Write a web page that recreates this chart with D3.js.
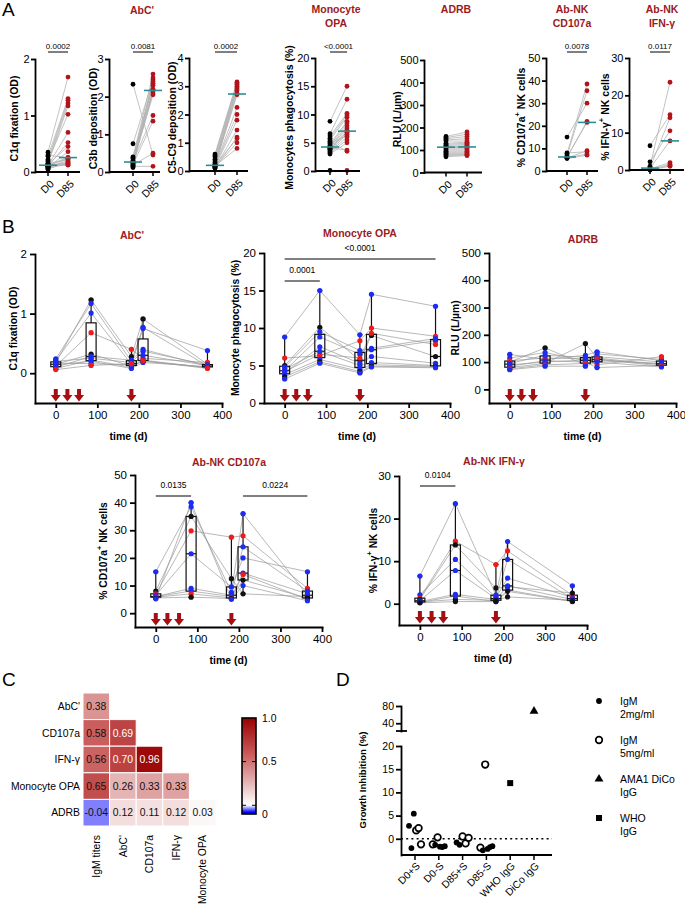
<!DOCTYPE html>
<html><head><meta charset="utf-8">
<script src="https://cdn.jsdelivr.net/npm/d3@7"></script>
<style>body{margin:0;background:#fff}svg{display:block}</style>
</head><body><svg id="c" width="685" height="906"></svg>
<script>
// ================= DATA =================
// Panel A: paired D0 / D85 values
const pairCats = ["D0", "D85"];
const c1qD0  = [0.35,0.28,0.22,0.18,0.15,0.20,0.12,0.10,0.14,0.08,0.30,0.12,0.10,0.06,0.15,0.08,0.05,0.10,0.12,0.07,0.12,0.11];
const c1qD85 = [1.68,1.30,1.27,1.22,1.17,1.02,0.70,0.52,0.45,0.36,0.25,0.26,0.25,0.24,0.22,0.20,0.18,0.17,0.15,0.14,0.13,0.12];
const c3bD0  = [2.33,0.75,0.40,0.38,0.35,0.30,0.28,0.27,0.26,0.25,0.22,0.20,0.18,0.15,0.12,0.25];
const c3bD85 = [0.45,2.45,2.60,2.40,2.35,2.30,1.50,2.20,2.15,2.10,2.05,1.35,0.50,0.15,2.50,2.18];
const c59D0  = [0.60,0.55,0.50,0.42,0.35,0.30,0.25,0.22,0.20,0.20,0.18,0.16,0.15,0.12,0.10,0.20,0.14,0.18];
const c59D85 = [3.15,3.12,3.08,3.05,3.00,2.95,2.90,2.85,2.75,2.70,2.25,2.00,1.80,1.45,1.20,1.15,1.00,0.80];
const opaD0  = [8.8,6.6,6.2,5.8,5.5,5.0,4.8,4.5,4.3,4.2,4.0,3.9,3.8,3.6,3.4,3.2,3.0,4.1,5.2,0.1];
const opaD85 = [15.0,12.7,10.2,9.9,9.5,6.2,8.8,8.5,8.0,7.6,7.2,6.9,6.8,6.5,6.0,5.5,5.0,3.7,3.5,0.1];
const adrbD0  = [160,155,150,145,140,130,125,120,115,113,112,110,105,100,95,90,85,80,75,70];
const adrbD85 = [180,170,160,150,140,135,130,125,120,115,112,110,105,100,95,90,85,80,78,75];
const cdD0  = [15,8,7.5,6.8,6.2,6.0,5.9,5.7,5.5];
const cdD85 = [30,8.5,38.5,35.5,21.5,22,7.5,9,7];
const ifnD0  = [6.5,2.2,1.0,0.6,0.5,0.3,0.2,0.1,0.0];
const ifnD85 = [14.8,10.5,23.5,14.0,7.8,2.0,1.5,1.2,1.0];
const aTitles = [["AbC'"],["Monocyte","OPA"],["ADRB"],["Ab-NK","CD107a"],["Ab-NK","IFN-γ"]];
const aPValues = ["0.0002","0.0081","0.0002","<0.0001",null,"0.0078","0.0117"];

// Panel B: longitudinal values per subject at days 0, 85, 182, 210, 365
const days = [0, 85, 182, 210, 365];
const doseDays = [0, 28, 56, 182];
const timeTicks = [0, 100, 200, 300, 400];
const abcSubjects = [
  [0.18,1.23,0.28,0.91,0.15],[0.24,1.17,0.20,0.77,0.12],[0.21,1.01,0.15,0.75,0.38],
  [0.12,0.68,0.40,0.25,0.18],[0.15,0.32,0.12,0.20,0.10],[0.10,0.28,0.22,0.40,0.12],
  [0.20,0.25,0.18,0.37,0.14],[0.08,0.22,0.10,0.22,0.09],[0.14,0.20,0.08,0.18,0.11],
  [0.17,0.16,0.14,0.30,0.13],[0.06,0.13,0.16,0.21,0.08]];
const abcGroups = ["k","b","b","r","k","b","b","b","b","b","r"];
const opaSubjects = [
  [8.8,15.0,9.1,14.5,12.9],[5.0,10.1,5.7,9.0,6.2],[6.0,6.3,8.3,10.0,8.9],
  [4.8,9.5,7.0,7.3,8.6],[4.3,8.8,6.5,7.1,8.3],[4.2,6.5,6.0,9.3,7.8],
  [4.0,7.5,5.3,6.2,5.3],[4.5,6.9,5.0,5.4,5.0],[3.8,5.8,4.5,5.1,4.9],
  [3.5,5.5,4.2,4.9,4.8],[3.2,5.3,4.0,4.8,4.7]];
const opaGroups = ["b","k","r","b","b","r","b","b","b","k","b"];
const adrbSubjects = [
  [100,152,90,108,95],[80,95,168,115,90],[128,110,125,138,105],[115,135,105,130,110],
  [105,115,112,90,120],[95,125,118,120,100],[90,100,108,105,93],[85,105,100,80,88],
  [75,90,95,112,85],[72,85,85,100,82]];
const adrbGroups = ["k","k","b","b","r","b","b","b","r","b"];
const cdSubjects = [
  [15,38.5,7.5,36,6.5],[8,35,12.5,7,6],[7,29.8,27.5,28,9],[6.5,21.5,9.5,20,15],
  [6,9,6.5,24,8],[6,8,6,14.5,7],[5.8,7,5.5,14,5.0],[5.5,5.8,5.3,12,5.5],[5.2,40,5.0,10,4.5]];
const cdGroups = ["b","k","r","b","b","b","r","k","b"];
const ifnSubjects = [
  [6.5,23.5,2.0,14.6,4.2],[2.1,10.4,1.5,6.0,1.5],[1.3,14.7,9.2,12.4,2.0],
  [1.0,13.8,3.7,4.0,2.5],[0.7,7.8,1.2,10.4,1.2],[0.5,2.2,1.0,4.2,1.0],
  [0.4,1.0,0.8,1.6,0.8],[0.3,1.8,0.5,3.2,0.6],[0.2,0.5,0.5,2.9,0.5]];
const ifnGroups = ["b","b","r","k","b","b","k","b","k"];

// Panel C: correlation matrix (lower triangle)
const corrCols = ["IgM titers","AbC'","CD107a","IFN-γ","Monocyte OPA"];
const corrRows = ["AbC'","CD107a","IFN-γ","Monocyte OPA","ADRB"];
const corrVals = [[0.38],[0.58,0.69],[0.56,0.70,0.96],[0.65,0.26,0.33,0.33],[-0.04,0.12,0.11,0.12,0.03]];
const corrTicks = [1.0, 0.5, 0];

// Panel D: growth inhibition
const giCats = ["D0+S","D0-S","D85+S","D85-S","WHO IgG","DiCo IgG"];
const giCat  = ["D0+S","D0+S","D0+S","D0+S","D0+S","D0+S",
                "D0-S","D0-S","D0-S","D0-S","D0-S","D0-S",
                "D85+S","D85+S","D85+S","D85+S","D85+S",
                "D85-S","D85-S","D85-S","D85-S","D85-S","D85-S",
                "WHO IgG","DiCo IgG"];
const giVal  = [2.8,-2.0,5.4,1.8,2.3,-1.2,
                -1.2,-1.3,0.3,-1.7,-1.8,-1.6,
                -0.8,-1.3,0.5,-1.0,0.2,
                -1.9,-2.5,16.0,-2.2,-1.8,-1.6,
                12.0,68];
const giKind = ["f","f","f","o","o","o",
                "o","f","o","f","f","f",
                "f","f","o","o","o",
                "o","f","o","f","f","f",
                "sq","tri"];
const giLegend = [["f",["IgM","2mg/ml"]],["o",["IgM","5mg/ml"]],["tri",["AMA1 DiCo","IgG"]],["sq",["WHO","IgG"]]];

// ================= DRAWING =================
const FONT = '"Liberation Sans", Arial, Helvetica, sans-serif';
const DARKRED = "#9c1a1c";
const PTRED = "#b3131b";
const TEAL = "#2a8f92";
const GCOL = {b:"#1c2cf2", r:"#ee1b1b", k:"#111"};
const svg = d3.select("#c").attr("font-family", FONT);
const plain = d => String(d);

function txt(x, y, s, size, opt={}) {
  return svg.append("text").attr("x", x).attr("y", y).attr("font-size", size)
    .attr("text-anchor", opt.anchor || "middle").attr("fill", opt.fill || "#000")
    .attr("font-weight", opt.bold ? "bold" : "normal").text(s);
}
function rotLabel(cx, cy, parts, size) {
  const t = svg.append("text").attr("transform", `translate(${cx + size*0.36},${cy}) rotate(-90)`)
    .attr("text-anchor", "middle").attr("font-weight", "bold").attr("font-size", size);
  parts.forEach(p => {
    const s = t.append("tspan").text(p.t);
    if (p.sup) s.attr("dy", -size*0.45).attr("font-size", size*0.72);
    if (p.after) s.attr("dy", size*0.45);
  });
}
function styleAxis(g, size, sw) {
  g.attr("font-family", FONT);
  g.selectAll("path.domain").attr("stroke", "#000").attr("stroke-width", sw).attr("stroke-linecap", "square");
  g.selectAll(".tick line").attr("stroke", "#000").attr("stroke-width", sw);
  g.selectAll(".tick text").attr("font-size", size).attr("fill", "#000");
}

// panel letters
txt(2, 16, "A", 19, {anchor:"start"});
txt(2, 233, "B", 19, {anchor:"start"});
txt(2, 686, "C", 19, {anchor:"start"});
txt(336, 686, "D", 19, {anchor:"start"});

// ---------- Panel A ----------
const aData = [
  {d0:c1qD0, d85:c1qD85, domain:[0,2], ticks:[0,1,2], label:[{t:"C1q fixation (OD)"}]},
  {d0:c3bD0, d85:c3bD85, domain:[0,3], ticks:[0,1,2,3], label:[{t:"C3b deposition (OD)"}]},
  {d0:c59D0, d85:c59D85, domain:[0,4], ticks:[0,1,2,3,4], label:[{t:"C5-C9 deposition (OD)"}]},
  {d0:opaD0, d85:opaD85, domain:[0,20], ticks:[0,5,10,15,20], label:[{t:"Monocytes phagocytosis (%)"}]},
  {d0:adrbD0, d85:adrbD85, domain:[0,500], ticks:[0,100,200,300,400,500], label:[{t:"RLU (L/µm)"}]},
  {d0:cdD0, d85:cdD85, domain:[0,50], ticks:[0,10,20,30,40,50], label:[{t:"% CD107a"},{t:"+",sup:true},{t:" NK cells",after:true}]},
  {d0:ifnD0, d85:ifnD85, domain:[0,30], ticks:[0,10,20,30], label:[{t:"% IFN-γ"},{t:"+",sup:true},{t:" NK cells",after:true}]},
];
const aLayout = [
  {ax:35,  xa:48,  xb:68,  xe:80,  y0:172,   y1:59, lab:14},
  {ax:109, xa:133, xb:153, xe:160, y0:172,   y1:59, lab:93},
  {ax:189, xa:215, xb:237, xe:248, y0:171,   y1:58, lab:172},
  {ax:315, xa:330, xb:347, xe:360, y0:171,   y1:58, lab:289},
  {ax:424, xa:446, xb:467, xe:482, y0:172.5, y1:60, lab:397},
  {ax:546, xa:567, xb:587, xe:598, y0:171,   y1:58, lab:521},
  {ax:629, xa:650, xb:670, xe:684, y0:170,   y1:58, lab:605},
];
const aTitlePos = [[142,14],[336,13],[456,13],[572,13],[662,13]];
aTitles.forEach((lines, i) => lines.forEach((l, j) =>
  txt(aTitlePos[i][0], aTitlePos[i][1] + j*14, l, 10.5, {bold:true, fill:DARKRED})));

aData.forEach((d, i) => {
  const L = aLayout[i];
  const y = d3.scaleLinear().domain(d.domain).range([L.y0, L.y1]);
  const x = d3.scalePoint().domain(pairCats).range([L.xa, L.xb]);
  const g = svg.append("g");
  g.selectAll("line.pair").data(d.d0).join("line")
    .attr("x1", x("D0")).attr("x2", x("D85"))
    .attr("y1", v => y(v)).attr("y2", (v, k) => y(d.d85[k]))
    .attr("stroke", "#b4b4b4").attr("stroke-width", 0.8);
  g.selectAll("circle.d0").data(d.d0).join("circle").attr("cx", x("D0")).attr("cy", v => y(v)).attr("r", 2.4).attr("fill", "#000");
  g.selectAll("circle.d85").data(d.d85).join("circle").attr("cx", x("D85")).attr("cy", v => y(v)).attr("r", 2.4).attr("fill", PTRED);
  [["D0", d.d0], ["D85", d.d85]].forEach(([c, arr]) => {
    const m = d3.median(arr);
    g.append("line").attr("x1", x(c) - 9).attr("x2", x(c) + 9).attr("y1", y(m)).attr("y2", y(m))
      .attr("stroke", TEAL).attr("stroke-width", 1.6);
  });
  const ya = svg.append("g").attr("transform", `translate(${L.ax},0)`)
    .call(d3.axisLeft(y).tickValues(d.ticks).tickFormat(plain).tickSize(4).tickSizeOuter(0).tickPadding(1.5));
  styleAxis(ya, 11, 1.8);
  svg.append("line").attr("x1", L.ax).attr("x2", L.xe).attr("y1", L.y0).attr("y2", L.y0)
    .attr("stroke", "#000").attr("stroke-width", 1.8);
  pairCats.forEach(c => {
    svg.append("line").attr("x1", x(c)).attr("x2", x(c)).attr("y1", L.y0).attr("y2", L.y0 + 4)
      .attr("stroke", "#000").attr("stroke-width", 1.5);
    svg.append("text").attr("transform", `translate(${x(c) + 4},${L.y0 + 10}) rotate(-45)`)
      .attr("text-anchor", "end").attr("dy", "0.35em").attr("font-size", 10.5).text(c);
  });
  if (aPValues[i]) {
    svg.append("line").attr("x1", x("D0")).attr("x2", x("D85")).attr("y1", 52).attr("y2", 52)
      .attr("stroke", "#000").attr("stroke-width", 1);
    txt((x("D0") + x("D85")) / 2, 49, aPValues[i], 8);
  }
  rotLabel(L.lab, (L.y0 + L.y1) / 2 + 3, d.label, 10.5);
});

// ---------- Panel B ----------
const bData = [
  {subj:abcSubjects, grp:abcGroups, domain:[-0.5,2], ticks:[0,1,2], title:"AbC'", label:[{t:"C1q fixation (OD)"}], brackets:[]},
  {subj:opaSubjects, grp:opaGroups, domain:[0,20], ticks:[0,5,10,15,20], title:"Monocyte OPA", label:[{t:"Monocyte phagocytosis (%)"}],
    brackets:[{a:0,b:365,p:"<0.0001",lvl:0},{a:0,b:85,p:"0.0001",lvl:1}]},
  {subj:adrbSubjects, grp:adrbGroups, domain:[-50,500], ticks:[0,100,200,300,400,500], title:"ADRB", label:[{t:"RLU (L/µm)"}], brackets:[]},
  {subj:cdSubjects, grp:cdGroups, domain:[-5,50], ticks:[0,10,20,30,40,50], title:"Ab-NK CD107a",
    label:[{t:"% CD107a"},{t:"+",sup:true},{t:" NK cells",after:true}], brackets:[{a:0,b:85,p:"0.0135",lvl:0},{a:210,b:365,p:"0.0224",lvl:0}]},
  {subj:ifnSubjects, grp:ifnGroups, domain:[-5,30], ticks:[0,10,20,30], title:"Ab-NK IFN-γ",
    label:[{t:"% IFN-γ"},{t:"+",sup:true},{t:" NK cells",after:true}], brackets:[{a:0,b:85,p:"0.0104",lvl:0}]},
];
const bLayout = [
  {xa:35,  xe:222, yb:403, yt:254, tx:132, ty:239, lab:13,  br:[]},
  {xa:264, xe:450, yb:403, yt:253, tx:360, ty:237, lab:235, br:[259,281]},
  {xa:489, xe:676, yb:403, yt:253, tx:583, ty:243, lab:455, br:[]},
  {xa:135, xe:322, yb:627, yt:475, tx:229, ty:466, lab:103, br:[496]},
  {xa:399, xe:587, yb:625, yt:476, tx:494, ty:465, lab:373, br:[486]},
];
bData.forEach((d, i) => {
  const L = bLayout[i];
  const x = d3.scaleLinear().domain([-50, 400]).range([L.xa, L.xe]);
  const y = d3.scaleLinear().domain(d.domain).range([L.yb, L.yt]);
  const g = svg.append("g");
  const line = d3.line().x((v, k) => x(days[k])).y(v => y(v));
  g.selectAll("path.subj").data(d.subj).join("path").attr("d", line)
    .attr("fill", "none").attr("stroke", "#9a9a9a").attr("stroke-width", 0.7);
  days.forEach((t, k) => {
    const vals = d.subj.map(s => s[k]).sort(d3.ascending);
    const q1 = d3.quantile(vals, 0.25), md = d3.quantile(vals, 0.5), q3 = d3.quantile(vals, 0.75);
    const mn = vals[0], mx = vals[vals.length - 1];
    const cx = x(t), bw = 5;
    const ln = (x1, y1, x2, y2) => g.append("line").attr("x1", x1).attr("y1", y1).attr("x2", x2).attr("y2", y2).attr("stroke", "#111").attr("stroke-width", 1.2);
    ln(cx, y(q3), cx, y(mx)); ln(cx, y(q1), cx, y(mn));
    ln(cx - 2.5, y(mx), cx + 2.5, y(mx)); ln(cx - 2.5, y(mn), cx + 2.5, y(mn));
    g.append("rect").attr("x", cx - bw).attr("width", bw * 2).attr("y", y(q3)).attr("height", y(q1) - y(q3))
      .attr("fill", "none").attr("stroke", "#111").attr("stroke-width", 1.2);
    ln(cx - bw, y(md), cx + bw, y(md));
  });
  d.subj.forEach((s, j) => s.forEach((v, k) =>
    g.append("circle").attr("cx", x(days[k])).attr("cy", y(v)).attr("r", 2.6).attr("fill", GCOL[d.grp[j]])));
  doseDays.forEach(t => {
    const cx = x(t), b = L.yb;
    g.append("path").attr("d", `M${cx-2},${b-14}L${cx+2},${b-14}L${cx+2},${b-8}L${cx+5},${b-8}L${cx},${b-1.5}L${cx-5},${b-8}L${cx-2},${b-8}Z`)
      .attr("fill", "#a50f12");
  });
  const ya = svg.append("g").attr("transform", `translate(${L.xa},0)`)
    .call(d3.axisLeft(y).tickValues(d.ticks).tickFormat(plain).tickSize(5).tickSizeOuter(0).tickPadding(3));
  styleAxis(ya, 11.5, 1.8);
  const xa = svg.append("g").attr("transform", `translate(0,${L.yb})`)
    .call(d3.axisBottom(x).tickValues(timeTicks).tickFormat(plain).tickSize(5).tickSizeOuter(0).tickPadding(3));
  styleAxis(xa, 11.5, 1.8);
  txt((L.xa + L.xe) / 2, L.yb + 37, "time (d)", 10.5, {bold:true});
  txt(L.tx, L.ty, d.title, 10.5, {bold:true, fill:DARKRED});
  rotLabel(L.lab, (L.yb + L.yt) / 2, d.label, 10.3);
  d.brackets.forEach(b => {
    const yy = L.br[b.lvl];
    svg.append("line").attr("x1", x(b.a)).attr("x2", x(b.b)).attr("y1", yy).attr("y2", yy).attr("stroke", "#000").attr("stroke-width", 1);
    txt((x(b.a) + x(b.b)) / 2, yy - 8, b.p, 8.5);
  });
});

// ---------- Panel C ----------
const hx = d3.scaleBand().domain(corrCols).range([83, 216]);
const hy = d3.scaleBand().domain(corrRows).range([693, 826]);
const hcol = d3.scaleLinear().domain([-0.08, 0, 0.3, 0.6, 1.0])
  .range(["#0000ff", "#ffffff", "#e1aaaa", "#c85858", "#990000"]).clamp(true);
corrVals.forEach((row, r) => row.forEach((v, c) => {
  svg.append("rect").attr("x", hx(corrCols[c])).attr("y", hy(corrRows[r]))
    .attr("width", hx.bandwidth()).attr("height", hy.bandwidth())
    .attr("fill", hcol(v)).attr("stroke", "#fff").attr("stroke-width", 1);
  txt(hx(corrCols[c]) + hx.bandwidth() / 2, hy(corrRows[r]) + hy.bandwidth() / 2 + 3.7,
    v.toFixed(2), 10.4, {fill: v > 0.68 ? "#fff" : "#111"});
}));
corrRows.forEach(r => txt(80, hy(r) + hy.bandwidth() / 2 + 3.7, r, 10.4, {anchor:"end"}));
corrCols.forEach(c => svg.append("text")
  .attr("transform", `translate(${hx(c) + hx.bandwidth() / 2 + 3.7},835) rotate(-90)`)
  .attr("text-anchor", "end").attr("font-size", 10.4).text(c));
// colour bar
const cb = d3.scaleLinear().domain([-0.1, 1.0]).range([814, 718]);
const grad = svg.append("defs").append("linearGradient").attr("id", "cbg")
  .attr("x1", 0).attr("x2", 0).attr("y1", 1).attr("y2", 0);
d3.range(-0.1, 1.0001, 0.02).forEach(v => grad.append("stop")
  .attr("offset", (v + 0.1) / 1.1).attr("stop-color", hcol(v)));
svg.append("rect").attr("x", 242).attr("y", cb(1)).attr("width", 14).attr("height", cb(-0.1) - cb(1))
  .attr("fill", "url(#cbg)").attr("stroke", "#000").attr("stroke-width", 1.6);
[0.5, 0].forEach(v => {
  [[242, 246], [252, 256]].forEach(([a, b]) => svg.append("line").attr("x1", a).attr("x2", b)
    .attr("y1", cb(v)).attr("y2", cb(v)).attr("stroke", "#000").attr("stroke-width", 1));
});
corrTicks.forEach(v => txt(262, (v === 0 ? cb(-0.1) : cb(v)) + 3.5, v === 0 ? "0" : v.toFixed(1), 10.4, {anchor:"start"}));

// ---------- Panel D ----------
const dx = d3.scalePoint().domain(giCats).range([415, 534]);
const dyLow = d3.scaleLinear().domain([-3.5, 20]).range([855, 746]);
const dyHigh = d3.scaleLinear().domain([22, 80]).range([731, 706]);
const dY = v => v > 20 ? dyHigh(v) : dyLow(v);
svg.append("line").attr("x1", 401).attr("x2", 552).attr("y1", dyLow(0)).attr("y2", dyLow(0))
  .attr("stroke", "#000").attr("stroke-width", 1.6).attr("stroke-dasharray", "2,3.2");
const yl = svg.append("g").attr("transform", "translate(401,0)")
  .call(d3.axisLeft(dyLow).tickValues([0, 5, 10, 15, 20]).tickFormat(plain).tickSize(5).tickSizeOuter(0).tickPadding(2));
styleAxis(yl, 10.5, 1.8);
const yh = svg.append("g").attr("transform", "translate(401,0)")
  .call(d3.axisLeft(dyHigh).tickValues([40, 80]).tickFormat(plain).tickSize(5).tickSizeOuter(0).tickPadding(2));
styleAxis(yh, 10.5, 1.8);
svg.append("line").attr("x1", 396).attr("x2", 407).attr("y1", 731).attr("y2", 731).attr("stroke", "#000").attr("stroke-width", 1.8);
svg.append("line").attr("x1", 401).attr("x2", 552).attr("y1", 855).attr("y2", 855).attr("stroke", "#000").attr("stroke-width", 1.8);
giCats.forEach(c => {
  svg.append("line").attr("x1", dx(c)).attr("x2", dx(c)).attr("y1", 855).attr("y2", 860).attr("stroke", "#000").attr("stroke-width", 1.5);
  svg.append("text").attr("transform", `translate(${dx(c) + 3},${864}) rotate(-45)`)
    .attr("text-anchor", "end").attr("dy", "0.35em").attr("font-size", 10.3).text(c);
});
rotLabel(363, 780, [{t:"Growth Inhibition (%)"}], 9.6);
function drawSym(kind, cx, cy) {
  if (kind === "f") svg.append("circle").attr("cx", cx).attr("cy", cy).attr("r", 2.9).attr("fill", "#000");
  else if (kind === "o") svg.append("circle").attr("cx", cx).attr("cy", cy).attr("r", 3.3).attr("fill", "#fff").attr("stroke", "#000").attr("stroke-width", 1.7);
  else if (kind === "sq") svg.append("rect").attr("x", cx - 3).attr("y", cy - 3).attr("width", 6).attr("height", 6).attr("fill", "#000");
  else svg.append("path").attr("d", d3.symbol(d3.symbolTriangle, 34)()).attr("transform", `translate(${cx},${cy})`).attr("fill", "#000");
}
giCats.forEach(c => {
  const idx = giCat.map((k, i) => k === c ? i : -1).filter(i => i >= 0);
  const n = idx.length;
  idx.forEach((i, j) => {
    const off = n > 1 ? -6 + 12 * j / (n - 1) : 0;
    drawSym(giKind[i], dx(c) + off, dY(giVal[i]));
  });
});
giLegend.forEach(([k, lines], i) => {
  const yy = 701 + i * 39;
  drawSym(k, 599, yy);
  lines.forEach((l, j) => txt(620, yy + 3.7 + j * 13, l, 10.5, {anchor:"start"}));
});
</script></body></html>
